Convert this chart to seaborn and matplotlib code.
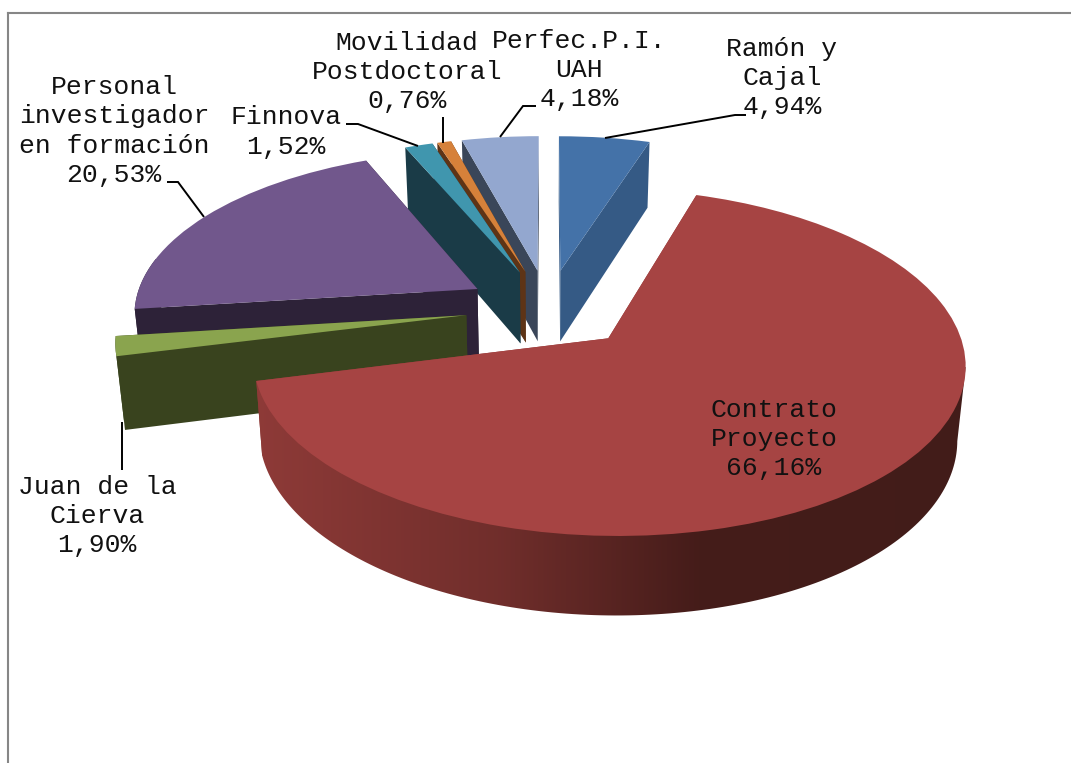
import numpy as np
import matplotlib
matplotlib.use("Agg")
import matplotlib.pyplot as plt
import seaborn as sns
from matplotlib.patches import PathPatch, Polygon
from matplotlib.path import Path
from matplotlib.transforms import Transform

# data
names = ["Ramón y\nCajal", "Contrato\nProyecto", "Juan de la\nCierva",
         "Personal\ninvestigador\nen formación", "Finnova",
         "Movilidad\nPostdoctoral", "Perfec.P.I.\nUAH"]
values = [4.94, 66.16, 1.90, 20.53, 1.52, 0.76, 4.18]

top_colors = ["#4472A8", "#A64443", "#8AA44E", "#71578C", "#4096AE", "#D6813A", "#93A7CF"]
side_colors = ["#355A85", "#8F3A38", "#39431E", "#2D2238", "#1A3B47", "#5E3416", "#3A4659"]
explode = [0.24, 0.25, 0.24, 0.24, 0.24, 0.24, 0.24]

label_xy = [(782, 78), (774, 439), (97, 516), (114, 131), (286, 132), (407, 72), (579, 70)]
leaders = [
    [(605, 138), (735, 115), (746, 115)],
    None,
    [(122, 422), (122, 470)],
    [(167, 182), (178, 182), (204, 217)],
    [(346, 124), (358, 124), (418, 146)],
    [(443, 117), (443, 143)],
    [(500, 137), (523, 106), (536, 106)],
]

# projection of the pie plane onto the page, fitted to the picture
X0, Y0, R, A, P, Q, H = 548, 308, 344, 162, 0.135, 0.135, 72


def project(u, v, z=0.0):
    u, v = np.asarray(u, float), np.asarray(v, float)
    x = X0 + R * u / (1 + Q * v) * (1 - 0.02 * z)
    y = Y0 - A * v / (1 + P * v) + H * z / (1 + 0.08 * v)
    return np.column_stack([x, y])


class PieView(Transform):
    input_dims = 2
    output_dims = 2

    def transform_non_affine(self, pts):
        pts = np.asarray(pts)
        return project(pts[:, 0], pts[:, 1])


sns.set_theme(style="white")
plt.rcParams["font.family"] = ["Liberation Mono", "DejaVu Sans Mono"]

fig = plt.figure(figsize=(10.71, 7.63), dpi=100)
ax = fig.add_axes([8 / 1071, 0, 1063 / 1071, 750 / 763])

wedges, _ = ax.pie(values, startangle=90, counterclock=False, colors=top_colors,
                   explode=explode, radius=1, wedgeprops={"linewidth": 0})

view = PieView()
order = sorted(range(len(wedges)), key=lambda i: -wedges[i].center[1])

# shading of the big slice's rim, dark towards the right
rim_x = np.linspace(250, 970, 256)
rim_rgb = np.column_stack([np.interp(rim_x, [250, 500, 700, 970], c) for c in
                           ([0.56, 0.44, 0.27, 0.26], [0.23, 0.18, 0.11, 0.11], [0.22, 0.17, 0.10, 0.10])])

for rank, i in enumerate(order):
    w = wedges[i]
    base = 10 + rank * 5
    cu, cv = w.center
    t = np.radians(np.linspace(w.theta1, w.theta2, 240))
    top = project(cu + np.cos(t), cv + np.sin(t), 0)
    bot = project(cu + np.cos(t), cv + np.sin(t), 1)

    # the two cut faces
    apex_t = project([cu], [cv], 0)[0]
    apex_b = project([cu], [cv], 1)[0]
    for k in [0, -1]:
        ax.fill(*zip(*[apex_t, top[k], bot[k], apex_b]), color=side_colors[i],
                linewidth=0, zorder=base)

    # outer rim
    if i == 1:
        # from the left corner along the bottom arc, up to the widest point of the top,
        # and back across under the top face
        widest = np.argmax(top[:, 0])
        outline = np.vstack([bot[:widest + 1], top[widest], top[0]])
        rim = Polygon(outline, closed=True, transform=ax.transData, facecolor="none", linewidth=0)
        ax.add_patch(rim)
        img = ax.imshow(rim_rgb[np.newaxis, :, :], extent=(250, 970, 640, 300), aspect="auto",
                        interpolation="bilinear", zorder=base + 1)
        img.set_clip_path(rim)
    else:
        idx = np.where(np.sin(t) < 0.2)[0]
        if len(idx) > 1:
            quads = [Path(np.array([top[k], top[k + 1], bot[k + 1], bot[k], top[k]]), closed=True)
                     for k in idx[:-1] if k + 1 in idx]
            ax.add_patch(PathPatch(Path.make_compound_path(*quads), facecolor=side_colors[i],
                                   linewidth=0, zorder=base + 1))

    w.set_transform(view + ax.transData)
    w.set_zorder(base + 2)

ax.set_aspect("auto")
ax.set_xlim(8, 1071)
ax.set_ylim(763, 13)
ax.set_frame_on(True)
sns.despine(ax=ax, top=False, left=False, right=True, bottom=True)
for s in ["left", "top"]:
    ax.spines[s].set_color("#868686")
    ax.spines[s].set_linewidth(1.5)
    ax.spines[s].set_zorder(1)

for i, name in enumerate(names):
    txt = name + "\n" + f"{values[i]:.2f}".replace(".", ",") + "%"
    ax.text(*label_xy[i], txt, ha="center", va="center", fontsize=19,
            linespacing=1.27, color="#111111", zorder=60)
    if leaders[i]:
        ax.plot(*zip(*leaders[i]), color="black", lw=1.4, zorder=59,
                solid_capstyle="butt", solid_joinstyle="miter")

fig.savefig("out.png", dpi=100)
